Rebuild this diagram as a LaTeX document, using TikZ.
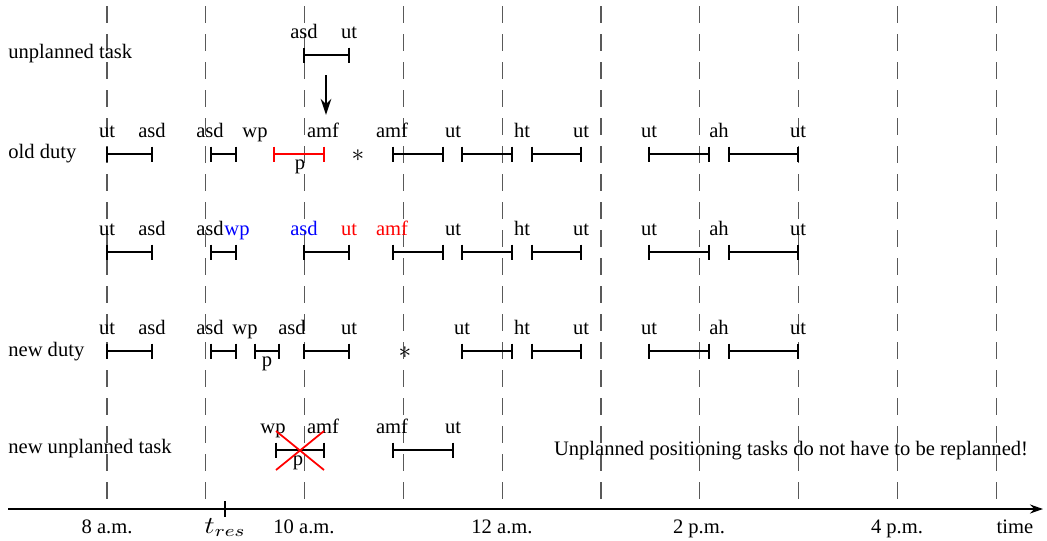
\documentclass[tikz,border=0pt]{standalone}
\usepackage{fontspec}
\setmainfont{Liberation Serif}
\usetikzlibrary{arrows.meta}

% one task interval: [colour]{start}{end}{y}
\newcommand\taskseg[4][black]{%
  \draw[segline,#1] (#2,#4) -- (#3,#4)
    (#2,#4-7.5) -- (#2,#4+7.5)
    (#3,#4-7.5) -- (#3,#4+7.5);}
% gap marker
\newcommand\gapmark{\scalebox{1.2}{$\ast$}}

\tikzset{
  segline/.style={line width=1pt},
  hourline/.style={black!65, line width=0.6pt, dash pattern=on 3.4mm off 2.2mm},
  lab/.style={anchor=base, inner sep=0pt},
  rowlab/.style={anchor=base west, inner sep=0pt},
}

\begin{document}
\begin{tikzpicture}[x=0.2mm, y=-0.2mm, font=\fontsize{11.7}{14}\selectfont]
\useasboundingbox (0,0) rectangle (1047,540);

% hour grid
\foreach \k in {0,...,9}
  \draw[hourline] ({107+98.8*\k},6) -- ({107+98.8*\k},499);

% row titles
\node[rowlab] (t1) at (8,58)  {unplanned task};
\node[rowlab] (t2) at (8,158) {old duty};
\node[rowlab] (t4) at (8,356) {new duty};
\node[rowlab] (t5) at (8,453) {new unplanned task};

% unplanned task
\taskseg{304}{349}{55}
\node[lab] (u1) at (304,38) {asd};
\node[lab] (u2) at (349,38) {ut};
\coordinate (arrA) at (326,75);
\coordinate (arrB) at (326,115);
\draw[line width=1.6pt, -{Stealth[length=3.2mm, width=2.1mm]}] (arrA) -- (arrB);

% old duty
\taskseg{107}{152}{154}
\taskseg{211}{236}{154}
\taskseg[red]{274}{324}{154}
\taskseg{393}{443}{154}
\taskseg{462}{512}{154}
\taskseg{532}{581}{154}
\taskseg{649}{709}{154}
\taskseg{729}{798}{154}
\foreach \x/\t [count=\i] in {107/ut,152/asd,210/asd,255/wp,323/amf,392/amf,453/ut,522/ht,581/ut,649/ut,719/ah,798/ut}
  \node[lab] (od\i) at (\x,137) {\t};
\node[lab] (odp) at (300,169) {p};
\node[lab] (odstar) at (358,161) {\gapmark};

% intermediate duty
\taskseg{107}{152}{252}
\taskseg{211}{236}{252}
\taskseg{304}{349}{252}
\taskseg{393}{443}{252}
\taskseg{462}{512}{252}
\taskseg{532}{581}{252}
\taskseg{649}{709}{252}
\taskseg{729}{798}{252}
\foreach \x/\t/\c [count=\i] in {107/ut/black,152/asd/black,210/asd/black,237/wp/blue,304/asd/blue,349/ut/red,392/amf/red,453/ut/black,522/ht/black,581/ut/black,649/ut/black,719/ah/black,798/ut/black}
  \node[lab, text=\c] (md\i) at (\x,235) {\t};

% new duty
\taskseg{107}{152}{351}
\taskseg{211}{236}{351}
\taskseg{255}{279}{351}
\taskseg{304}{349}{351}
\taskseg{462}{512}{351}
\taskseg{532}{581}{351}
\taskseg{649}{709}{351}
\taskseg{729}{798}{351}
\foreach \x/\t [count=\i] in {107/ut,152/asd,210/asd,245/wp,292/asd,349/ut,462/ut,522/ht,581/ut,649/ut,719/ah,798/ut}
  \node[lab] (nd\i) at (\x,334) {\t};
\node[lab] (ndp) at (267,366) {p};
\node[lab] (ndstar) at (405,358) {\gapmark};

% new unplanned task
\taskseg{276}{324}{450}
\taskseg{393}{453}{450}
\foreach \x/\t [count=\i] in {273/wp,323/amf,392/amf,453/ut}
  \node[lab] (nu\i) at (\x,433) {\t};
\node[lab] (nup) at (298,465) {p};
\draw[red, line width=1pt] (276,431) -- (324,470) (276,470) -- (324,431);
\node[lab] (note) at (791,455) {Unplanned positioning tasks do not have to be replanned!};

% time axis
\coordinate (ax0) at (8,509);
\coordinate (ax1) at (1043,509);
\draw[line width=1.3pt, -{Stealth[length=2.6mm, width=1.8mm]}] (ax0) -- (ax1);
\draw[line width=1.3pt] (225,501) -- (225,517);
\foreach \x/\t [count=\i] in {107/8 a.m.,225/\scalebox{1.4}[1.15]{$t_{res}$},304/10 a.m.,502/12 a.m.,699/2 p.m.,897/4 p.m.,1015/time}
  \node[lab] (ax\i) at (\x,533) {\t};
\end{tikzpicture}
\end{document}
